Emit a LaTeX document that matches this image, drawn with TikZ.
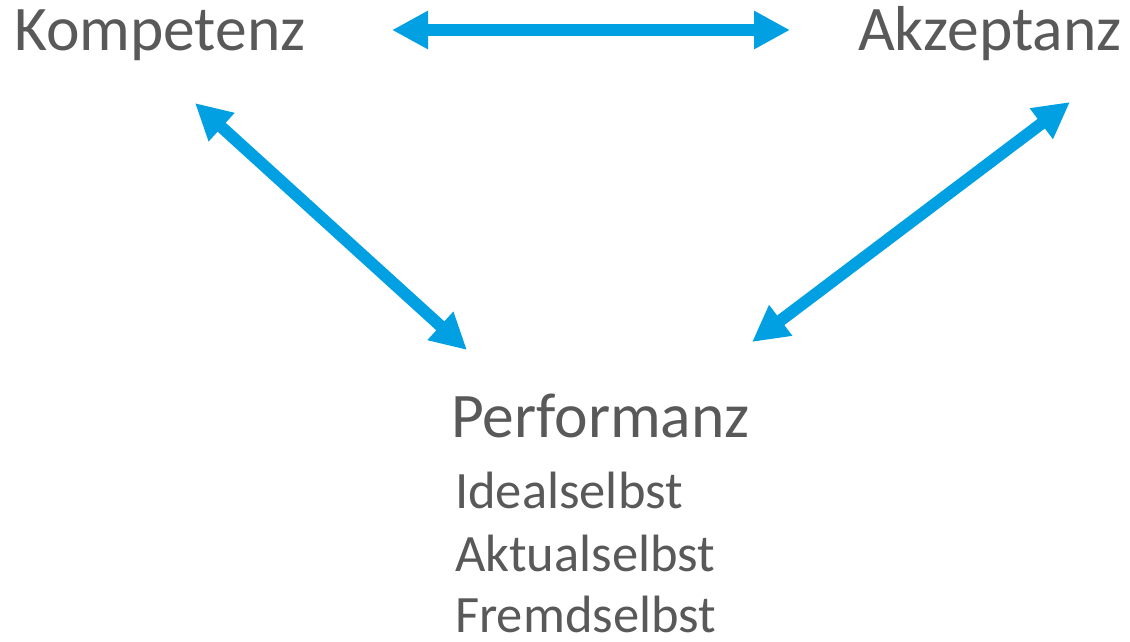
\documentclass[tikz,border=0pt]{standalone}
\usepackage{fontspec}
\setmainfont{Carlito}
\usetikzlibrary{arrows.meta}
\definecolor{arrowblue}{RGB}{0,160,227}
\definecolor{txtgray}{RGB}{89,89,89}
\tikzset{
  bigtxt/.style={text=txtgray, font=\fontsize{63.5}{74}\selectfont, inner sep=0pt, anchor=base west},
  smalltxt/.style={text=txtgray, font=\fontsize{52.5}{62}\selectfont, inner sep=0pt, anchor=base west},
  dblarrow/.style={draw=arrowblue, line width=12pt, {Triangle[length=36pt,width=36pt]}-{Triangle[length=36pt,width=36pt]}}
}
\begin{document}
\begin{tikzpicture}[x=1pt,y=-1pt]
\useasboundingbox (0,0) rectangle (1130,641);
\node[bigtxt] (komp) at (14,50) {Kompetenz};
\node[bigtxt] (akz) at (858,50) {Akzeptanz};
\node[bigtxt] (perf) at (451,437) {Performanz};
\node[smalltxt] (ideal) at (455,508) {Idealselbst};
\node[smalltxt] (aktual) at (455,571) {Aktualselbst};
\node[smalltxt] (fremd) at (455,632) {Fremdselbst};
\coordinate (h1) at (392,30);
\coordinate (h2) at (790,30);
\coordinate (l1) at (195,103);
\coordinate (l2) at (467,350);
\coordinate (r1) at (1070,102);
\coordinate (r2) at (752,342);
\draw[dblarrow] (h1) -- (h2);
\draw[dblarrow] (l1) -- (l2);
\draw[dblarrow] (r1) -- (r2);
\end{tikzpicture}
\end{document}
